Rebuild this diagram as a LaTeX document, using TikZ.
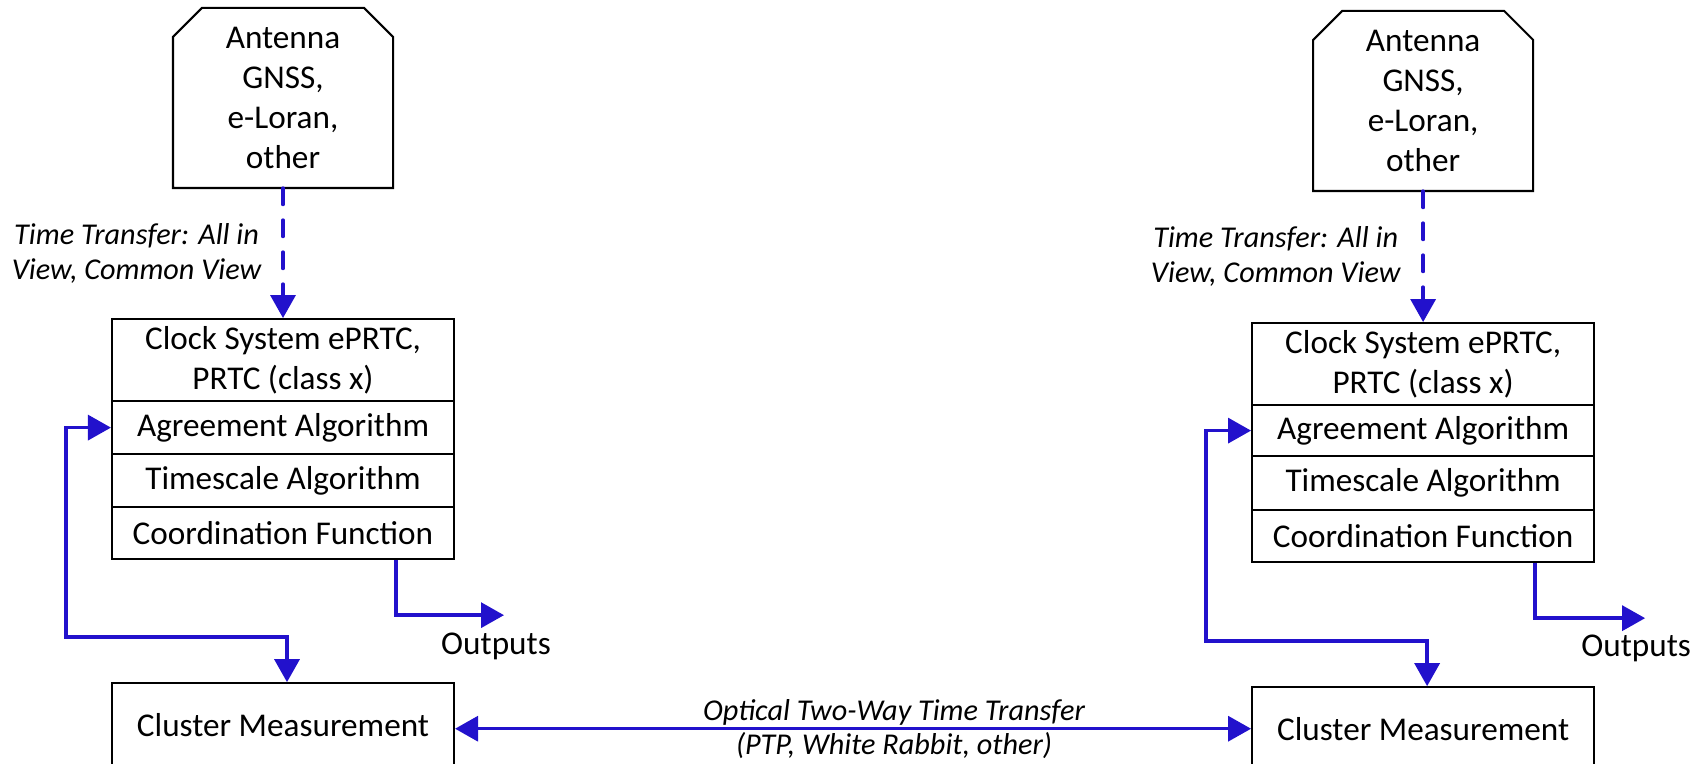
\documentclass[tikz,border=0pt]{standalone}
\usepackage{fontspec}
\setmainfont{Carlito}
\usetikzlibrary{arrows.meta, positioning}
\definecolor{linkblue}{RGB}{34,17,204}
\tikzstyle{part} = [rectangle, minimum width=6.84cm, inner sep=1pt, text centered, align=center, draw=black, font=\fontsize{18.9pt}{22.7pt}\selectfont]
\tikzstyle{plain} = [inner sep=0pt, font=\fontsize{18.9pt}{22.7pt}\selectfont]
\tikzstyle{lbl} = [inner sep=0pt, align=center, font=\fontsize{17.2pt}{19.9pt}\selectfont\itshape]
\tikzstyle{arrow} = [draw=linkblue, line width=1.9pt, -{Triangle[length=0.46cm,width=0.5cm]}]
\tikzstyle{dblarrow} = [arrow, {Triangle[length=0.46cm,width=0.5cm]}-{Triangle[length=0.46cm,width=0.5cm]}]
\tikzstyle{dashedarrow} = [arrow, dash pattern=on 0.33cm off 0.31cm, line cap=round]
\tikzset{antenna/.style={
        minimum width=4.36cm,
        minimum height=3.56cm,
        inner sep=1pt,
        align=center,
        font=\fontsize{18.9pt}{22.7pt}\selectfont,
        append after command={
            \pgfextra
            \draw (\tikzlastnode.south west) -- ([yshift=-0.58cm]\tikzlastnode.north west) -- ([xshift=0.58cm]\tikzlastnode.north west) -- ([xshift=-0.58cm]\tikzlastnode.north east) -- ([yshift=-0.58cm]\tikzlastnode.north east) -- (\tikzlastnode.south east) -- cycle;
        \endpgfextra}
    }
}

\begin{document}
\begin{tikzpicture}[node distance=2.6cm, line width=1.2pt]
    \useasboundingbox (0,0) rectangle (33.9,-15.28);
    % left site
    \node (ant1) [antenna] at (5.66,-1.96) {Antenna\\GNSS,\\e-Loran,\\other};
    \node (clock1) [part, minimum height=1.64cm, below=2.6cm of ant1] {Clock System ePRTC,\\PRTC (class x)};
    \node (agree1) [part, minimum height=1.06cm, below=-1.2pt of clock1] {Agreement Algorithm};
    \node (time1) [part, minimum height=1.06cm, below=-1.2pt of agree1] {Timescale Algorithm};
    \node (coord1) [part, minimum height=1.04cm, below=-1.2pt of time1] {Coordination Function};
    \node (cluster1) [part, minimum height=1.66cm, below=2.44cm of coord1] {Cluster Measurement};
    \node (out1) [plain] at ([shift={(4.26,-1.72)}]coord1.south) {Outputs};
    \coordinate (tip1) at ([shift={(0.16,0.62)}]out1.center);

    % right site
    \node (ant2) [antenna, right=18.4cm of ant1, yshift=-0.06cm] {Antenna\\GNSS,\\e-Loran,\\other};
    \node (clock2) [part, minimum height=1.64cm, below=2.62cm of ant2] {Clock System ePRTC,\\PRTC (class x)};
    \node (agree2) [part, minimum height=1.02cm, below=-1.2pt of clock2] {Agreement Algorithm};
    \node (time2) [part, minimum height=1.08cm, below=-1.2pt of agree2] {Timescale Algorithm};
    \node (coord2) [part, minimum height=1.04cm, below=-1.2pt of time2] {Coordination Function};
    \node (cluster2) [part, minimum height=1.66cm, below=2.46cm of coord2] {Cluster Measurement};
    \node (out2) [plain] at ([shift={(4.26,-1.70)}]coord2.south) {Outputs};
    \coordinate (tip2) at ([shift={(0.18,0.60)}]out2.center);

    \draw[dashedarrow] (ant1) -- node[lbl, left, xshift=-0.4cm] {Time Transfer: All in\\View, Common View} (clock1);
    \draw[dashedarrow] (ant2) -- node[lbl, left, xshift=-0.42cm] {Time Transfer: All in\\View, Common View} (clock2);

    \draw[dblarrow] (agree1.west) -- ++(-0.9,0) |- ([xshift=0.08cm, yshift=0.9cm]cluster1.north) -- ([xshift=0.08cm]cluster1.north);
    \draw[dblarrow] (agree2.west) -- ++(-0.9,0) |- ([xshift=0.08cm, yshift=0.9cm]cluster2.north) -- ([xshift=0.08cm]cluster2.north);

    \draw[arrow] ([xshift=2.26cm]coord1.south) |- (tip1);
    \draw[arrow] ([xshift=2.24cm]coord2.south) |- (tip2);

    \draw[dblarrow] (cluster1.east |- cluster2.west) -- node[lbl, above=1pt, xshift=0.82cm] {Optical Two-Way Time Transfer} node[lbl, below=1pt, xshift=0.82cm] {(PTP, White Rabbit, other)} (cluster2.west);
\end{tikzpicture}
\end{document}
